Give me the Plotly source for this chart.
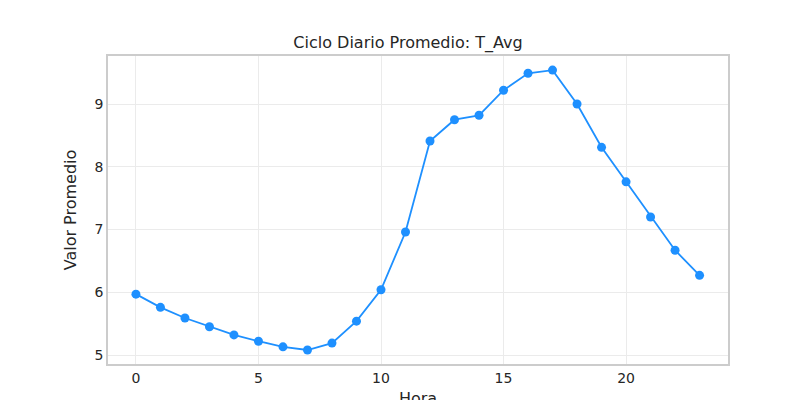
import plotly.graph_objects as go

hours = list(range(24))
t_avg = [5.97, 5.76, 5.59, 5.45, 5.32, 5.22, 5.13, 5.08, 5.19, 5.54, 6.04, 6.96,
         8.41, 8.75, 8.82, 9.22, 9.49, 9.54, 9.00, 8.31, 7.76, 7.20, 6.67, 6.27]

fig = go.Figure(go.Scatter(x=hours, y=t_avg, mode="lines+markers",
                           line=dict(color="#1e90ff", width=1.8),
                           marker=dict(color="#1e90ff", size=9)))
axis = dict(showgrid=True, gridcolor="#ebebeb", zeroline=False, showline=True,
            linecolor="#cccccc", linewidth=1.5, mirror=True, ticks="",
            automargin=False, tickfont=dict(size=14, color="#262626"))
fig.update_layout(
    width=800, height=400, paper_bgcolor="white", plot_bgcolor="white",
    font=dict(family="DejaVu Sans", color="#262626"),
    margin=dict(l=100, r=80, t=48, b=44, pad=0),
    title=dict(text="Ciclo Diario Promedio: T_Avg", x=0.5, xanchor="center",
               yref="container", y=0.915, yanchor="middle", font=dict(size=16)),
    xaxis=dict(axis, range=[-1.14, 24.16], tickvals=[0, 5, 10, 15, 20],
               title=dict(text="Hora", font=dict(size=16), standoff=10)),
    yaxis=dict(axis, range=[4.857, 9.765], tickvals=[5, 6, 7, 8, 9],
               title=dict(text="Valor Promedio", font=dict(size=16), standoff=14)),
    showlegend=False,
)
fig.write_html("out.html")
